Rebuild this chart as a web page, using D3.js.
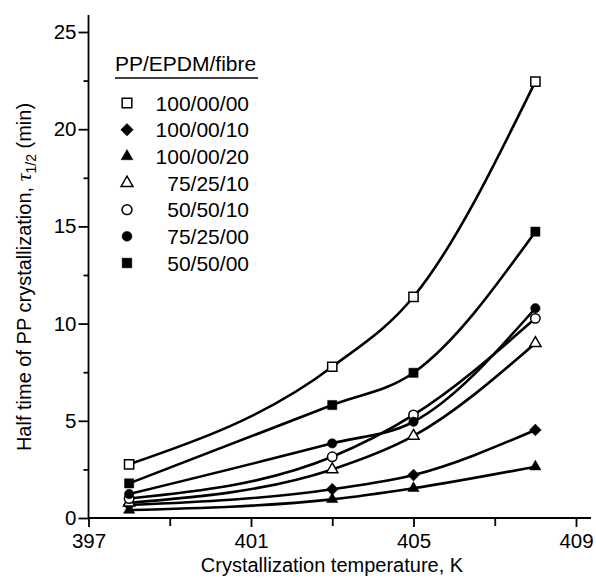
<!DOCTYPE html>
<html><head><meta charset="utf-8">
<script src="https://cdn.jsdelivr.net/npm/d3@7"></script>
<style>body{margin:0;background:#fff}svg{display:block}text{font-family:"Liberation Sans",Arial,Helvetica,sans-serif;fill:#000}</style>
</head><body>
<script>
const temps = [398, 403, 405, 408];
const seriesNames = ["100/00/00","100/00/10","100/00/20","75/25/10","50/50/10","75/25/00","50/50/00"];
const s100_00_00 = [2.76, 7.78, 11.38, 22.45];
const s100_00_10 = [0.67, 1.48, 2.21, 4.53];
const s100_00_20 = [0.41, 0.96, 1.53, 2.64];
const s75_25_10 = [0.78, 2.5, 4.22, 8.99];
const s50_50_10 = [1.0, 3.15, 5.3, 10.27];
const s75_25_00 = [1.23, 3.84, 4.95, 10.79];
const s50_50_00 = [1.78, 5.81, 7.47, 14.73];
const seriesValues = [s100_00_00, s100_00_10, s100_00_20, s75_25_10, s50_50_10, s75_25_00, s50_50_00];
const markers = ["squareOpen","diamond","triangle","triangleOpen","circleOpen","circle","square"];
const xTicks = [397, 401, 405, 409];
const xMinor = [399, 403, 407];
const yTicks = [0, 5, 10, 15, 20, 25];
const yMinor = [2.5, 7.5, 12.5, 17.5, 22.5];

const W = 596, H = 580;
const svg = d3.select("body").append("svg").attr("width", W).attr("height", H);
const x = d3.scaleLinear().domain([397, 409]).range([88.5, 576]);
const y = d3.scaleLinear().domain([0, 25]).range([518, 32]);

// axes
const ax = svg.append("g").attr("stroke", "#000").attr("stroke-width", 1.8);
ax.append("line").attr("x1", x(397)).attr("x2", 591).attr("y1", y(0)).attr("y2", y(0));
ax.append("line").attr("x1", x(397)).attr("x2", x(397)).attr("y1", y(0)).attr("y2", 15);

const xAxis = d3.axisBottom(x).tickValues(xTicks).tickSize(9).tickFormat(d3.format("d"));
const gx = svg.append("g").attr("transform", `translate(0,${y(0)})`).call(xAxis);
gx.select(".domain").remove();
gx.selectAll(".tick line").attr("stroke-width", 1.8);
gx.selectAll(".tick text").attr("font-size", 20.5).attr("dy", "0.95em").attr("y", 11);
const gxm = svg.append("g").attr("transform", `translate(0,${y(0)})`).call(d3.axisBottom(x).tickValues(xMinor).tickSize(8).tickFormat(""));
gxm.select(".domain").remove();
gxm.selectAll(".tick line").attr("stroke-width", 1.8);

const gy = svg.append("g").attr("transform", `translate(${x(397)},0)`).call(d3.axisLeft(y).tickValues(yTicks).tickSize(10).tickFormat(d3.format("d")));
gy.select(".domain").remove();
gy.selectAll(".tick line").attr("stroke-width", 1.8);
gy.selectAll(".tick text").attr("font-size", 20.5).attr("x", -12);
const gym = svg.append("g").attr("transform", `translate(${x(397)},0)`).call(d3.axisLeft(y).tickValues(yMinor).tickSize(5).tickFormat(""));
gym.select(".domain").remove();
gym.selectAll(".tick line").attr("stroke-width", 1.8);

// titles
svg.append("text").attr("x", 332).attr("y", 572).attr("text-anchor", "middle").attr("font-size", 20)
  .text("Crystallization temperature, K");
const yt = svg.append("text").attr("transform", "translate(31,277) rotate(-90)").attr("text-anchor", "middle").attr("font-size", 20);
yt.append("tspan").text("Half time of PP crystallization, ");
yt.append("tspan").attr("font-family", "'Liberation Serif','DejaVu Serif',serif").attr("font-style", "italic").attr("font-size", 22).text("τ");
yt.append("tspan").attr("font-size", 14).attr("dy", 5).text("1/2");
yt.append("tspan").attr("dy", -5).text(" (min)");

// lines
const line = d3.line().x((d, i) => x(temps[i])).y(d => y(d)).curve(d3.curveMonotoneX);
svg.append("g").selectAll("path").data(seriesValues).join("path")
  .attr("d", d => line(d)).attr("fill", "none").attr("stroke", "#000").attr("stroke-width", 2.6);

function drawMarker(g, type, cx, cy, scale) {
  const s = scale || 1;
  let sym, size, rot = 0;
  if (type.startsWith("square")) { sym = d3.symbolSquare; size = 85 * s * s; }
  else if (type === "diamond") { sym = d3.symbolSquare; size = 70 * s * s; rot = 45; }
  else if (type.startsWith("triangle")) { sym = d3.symbolTriangle; size = 55 * s * s; }
  else { sym = d3.symbolCircle; size = 70 * s * s; }
  const open = type.endsWith("Open");
  g.append("path").attr("d", d3.symbol(sym, size)())
    .attr("transform", `translate(${cx},${cy}) rotate(${rot})`)
    .attr("fill", open ? "#fff" : "#000").attr("stroke", "#000").attr("stroke-width", open ? 1.5 : 0.5);
}
const mg = svg.append("g");
seriesValues.forEach((vals, si) => {
  vals.forEach((v, i) => drawMarker(mg, markers[si], x(temps[i]), y(v), 1));
});

// legend
const lg = svg.append("g");
lg.append("text").attr("x", 115).attr("y", 71).attr("font-size", 21).text("PP/EPDM/fibre");
lg.append("line").attr("x1", 115).attr("x2", 258).attr("y1", 78).attr("y2", 78).attr("stroke", "#000").attr("stroke-width", 1.5);
const legY = d3.scaleLinear().domain([0, 6]).range([103, 263]);
seriesNames.forEach((n, i) => {
  drawMarker(lg, markers[i], 127, legY(i), 1.05);
  lg.append("text").attr("x", 249).attr("y", legY(i) + 7.5).attr("text-anchor", "end").attr("font-size", 21).text(n);
});
</script>
</body></html>
